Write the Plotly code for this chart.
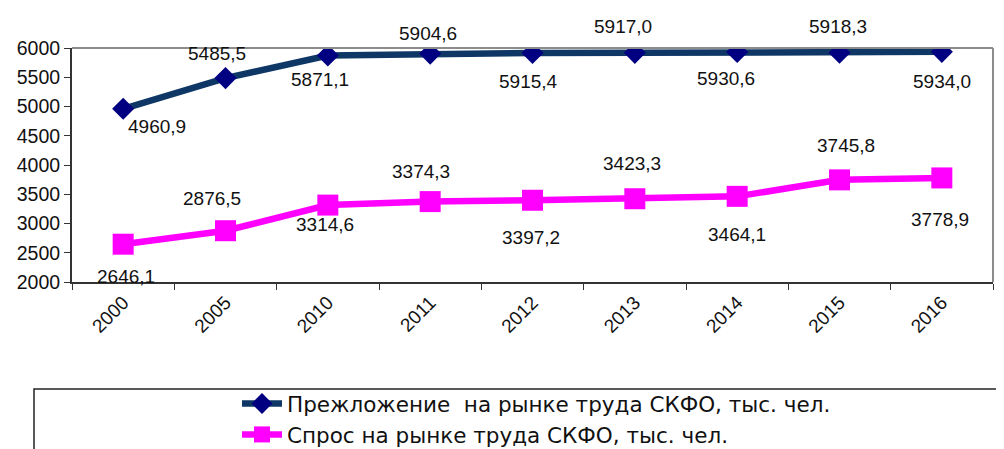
import plotly.graph_objects as go

years = ["2000", "2005", "2010", "2011", "2012", "2013", "2014", "2015", "2016"]
supply = [4960.9, 5485.5, 5871.1, 5904.6, 5915.4, 5917.0, 5930.6, 5918.3, 5934.0]
demand = [2646.1, 2876.5, 3314.6, 3374.3, 3397.2, 3423.3, 3464.1, 3745.8, 3778.9]
supply_name = "Прежложение  на рынке труда СКФО, тыс. чел."
demand_name = "Спрос на рынке труда СКФО, тыс. чел."

# label offsets in pixels (dx right, dy down)
supply_off = [(34, 18), (-9, -25), (-8, 24), (-2, -20), (-4, 29), (-12, -26), (-11, 26), (-2, -26), (0, 30)]
demand_off = [(3, 32), (-14, -32), (-3, 19), (-9, -30), (-2, 37), (-3, -35), (0, 38), (6, -34), (-2, 42)]

FONT = "Liberation Sans, Arial, sans-serif"

fig = go.Figure()
fig.add_trace(go.Scatter(
    x=years, y=supply, name=supply_name, mode="lines+markers",
    line=dict(color="#0E3766", width=6.5),
    marker=dict(symbol="diamond", size=17, color="#000080"),
))
fig.add_trace(go.Scatter(
    x=years, y=demand, name=demand_name, mode="lines+markers",
    line=dict(color="#FF00FF", width=6.5),
    marker=dict(symbol="square", size=21, color="#FF00FF"),
))

def fmt(v):
    return f"{v:.1f}".replace(".", ",")

annotations = []
for vals, offs in ((supply, supply_off), (demand, demand_off)):
    for i, (v, (dx, dy)) in enumerate(zip(vals, offs)):
        annotations.append(dict(
            x=i, y=v, xref="x", yref="y", text=fmt(v), showarrow=False,
            xshift=dx, yshift=-dy, font=dict(family=FONT, size=19, color="#111111"),
        ))

# page has an 8px body margin; figure coordinates are page minus 8
OFF = 8
W, H = 1004 - OFF, 449 - OFF
L, T = 72 - OFF, 48 - OFF
R = W - (993 - OFF)
B = H - (282 - OFF)
pw, ph = W - L - R, H - T - B

def px(xp):  # page pixel -> paper x
    return (xp - OFF - L) / pw

def py(yp):  # page pixel -> paper y
    return (H - B - (yp - OFF)) / ph

shapes = [
    dict(type="line", xref="paper", yref="paper", x0=0, x1=1, y0=1, y1=1,
         line=dict(color="#8C8C8C", width=2)),
    dict(type="line", xref="paper", yref="paper", x0=1, x1=1, y0=0, y1=1,
         line=dict(color="#8C8C8C", width=2)),
    dict(type="rect", xref="paper", yref="paper", x0=px(34), x1=px(1015),
         y0=py(389), y1=py(470), line=dict(color="#222222", width=1.5),
         fillcolor="rgba(0,0,0,0)"),
]

fig.update_layout(
    width=W, height=H,
    margin=dict(l=L, r=R, t=T, b=B, autoexpand=False),
    paper_bgcolor="white", plot_bgcolor="white",
    font=dict(family=FONT, size=19, color="#111111"),
    showlegend=True,
    legend=dict(
        x=px(237), y=py(383), xanchor="left", yanchor="top",
        font=dict(family="DejaVu Sans, Liberation Sans, sans-serif", size=21.5, color="#111111"),
        bgcolor="rgba(0,0,0,0)", borderwidth=0, tracegroupgap=0,
        itemwidth=40,
    ),
    annotations=annotations,
    shapes=shapes,
)
fig.update_xaxes(
    type="category", tickson="boundaries", ticks="outside", ticklen=6,
    tickcolor="#333333", showline=True, linecolor="#333333", linewidth=2,
    showgrid=False, tickangle=-45, tickfont=dict(family=FONT, size=19, color="#111111"),
    range=[-0.5, 8.5],
)
fig.update_yaxes(
    range=[2000, 6000], dtick=500, ticks="outside", ticklen=6,
    tickcolor="#333333", showline=True, linecolor="#333333", linewidth=2,
    showgrid=False, zeroline=False, tickfont=dict(family=FONT, size=19.5, color="#111111"),
)

fig.write_html("out.html")
